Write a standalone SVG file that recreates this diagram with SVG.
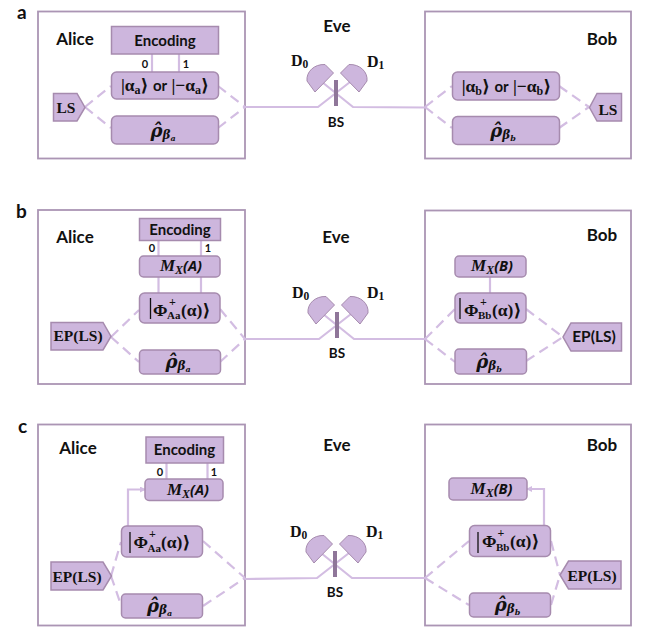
<svg xmlns="http://www.w3.org/2000/svg" width="670" height="632" viewBox="0 0 670 632">
<defs>
<style>
.frame{fill:#fff;stroke:#ab95b4;stroke-width:1.8}
.box{fill:#cdb6dd;stroke:#a68bae;stroke-width:1.5}
.wire{fill:none;stroke:#d3bde2;stroke-width:2.200}
.dash{fill:none;stroke:#d3bde2;stroke-width:2.200;stroke-dasharray:10 6}
.bar{fill:#8f7699}
.det{fill:#cdb6dd;stroke:#a68bae;stroke-width:1}
.ket{stroke:#111;stroke-width:1.300;fill:none}
text{font-family:"Lato","Open Sans","Liberation Sans",sans-serif;font-weight:700;fill:#111;text-anchor:middle}
.tag{font-size:19px;text-anchor:start}
.who{font-size:17px}
.enc{font-size:15px}
.bit{font-size:11px}
.bs{font-size:13.500px}
.m{font-family:"Liberation Serif","DejaVu Serif",serif;font-size:17.500px}
.ep{font-family:"Liberation Serif","DejaVu Serif",serif;font-size:15.500px}
.s{font-size:12px}
.or{font-family:"Lato",sans-serif;font-size:15px}
.mx{font-family:"Open Sans","Liberation Sans",sans-serif;font-style:italic;font-size:14.500px}
.mm{font-family:"Liberation Serif",serif;font-size:17px}
.mb{font-family:"Liberation Serif",serif;font-size:12px}
.rho{font-family:"DejaVu Serif",serif;font-style:italic;font-size:18px}
.rb{font-size:12px}
.rc{font-size:8px}
.lab{font-family:"Liberation Serif","DejaVu Serif",serif;font-size:16px;text-anchor:start}
.lab tspan{font-size:11.500px}
.phi{font-family:"Liberation Serif","DejaVu Serif",serif;font-size:17.500px;text-anchor:start}
.pp{font-family:"Liberation Serif",serif;font-size:12px;text-anchor:start}
.ps{font-family:"Liberation Serif",serif;font-size:11px;text-anchor:start}
</style>
<marker id="head" markerWidth="6" markerHeight="6" refX="5" refY="3" orient="auto" markerUnits="userSpaceOnUse"><path d="M0,0 L6,3 L0,6 Z" fill="#d3bde2"/></marker>
<path id="detector" d="M315,92 L307,81 C306,72 314,64 325,64.500 L333.500,73 Z"/>
</defs>
<rect width="670" height="632" fill="#fff"/>

<!-- Frames sit under everything else -->
<g id="frames">
<rect class="frame" x="38" y="11.500" width="207" height="147"/>
<rect class="frame" x="425" y="11.500" width="206" height="147"/>
<rect class="frame" x="38" y="210" width="207" height="174"/>
<rect class="frame" x="425" y="210.500" width="206" height="173.500"/>
<rect class="frame" x="38" y="424.500" width="207" height="201"/>
<rect class="frame" x="425" y="424.500" width="206" height="201"/>
</g>

<g id="connectors">
<!-- panel a -->
<path class="dash" d="M85,107 L111,86"/><path class="dash" d="M85,107 L111,128"/>
<path class="dash" d="M218,86 L245,107"/><path class="dash" d="M218,128 L245,107"/>
<path class="wire" d="M152,54 V72 M179,54 V72"/>
<path class="wire" d="M245,107 H318 L350,82"/>
<path class="wire" d="M425,107.500 L353,107 L322,82"/>
<path class="dash" d="M425,107 L452,86"/><path class="dash" d="M425,107 L452,128"/>
<path class="dash" d="M559,86 L589,107"/><path class="dash" d="M559,128 L589,107"/>
<!-- panel b -->
<path class="dash" d="M111,337 L139,310"/><path class="dash" d="M111,337 L139,362"/>
<path class="dash" d="M220,309 L245,339"/><path class="dash" d="M220,362 L245,339"/>
<path class="wire" d="M158.500,240 V256 M201,240 V256 M158.500,277 V293 M201,277 V293"/>
<path class="wire" d="M245,339 H319 L351,314"/>
<path class="wire" d="M425,339 H354 L323,314"/>
<path class="dash" d="M425,339 L455,309"/><path class="dash" d="M425,339 L455,362"/>
<path class="dash" d="M526,309 L563,337"/><path class="dash" d="M526,361 L563,337"/>
<path class="wire" d="M490,277 V293"/>
<!-- panel c -->
<path class="dash" d="M111,576 L121,542"/><path class="dash" d="M111,576 L121,605"/>
<path class="dash" d="M203,541 L245,578"/><path class="dash" d="M203,606 L245,578"/>
<path class="wire" d="M166.500,463 V479 M207.500,463 V479"/>
<path class="wire" marker-end="url(#head)" d="M128,526 V489.500 H145"/>
<path class="wire" d="M245,579 L317,578 L349,553"/>
<path class="wire" d="M425,578 H352 L321,553"/>
<path class="dash" d="M425,578 L469,541"/><path class="dash" d="M425,578 L469,605"/>
<path class="dash" d="M551,541 L560,575"/><path class="dash" d="M551,605 L560,575"/>
<path class="wire" marker-end="url(#head)" d="M544,525 V489 H527"/>
</g>

<text class="tag" x="17" y="19">a</text>
<text class="tag" x="16" y="218">b</text>
<text class="tag" x="18" y="433">c</text>

<!-- Panel a, Alice -->
<g id="a-alice"><text class="who" x="75" y="44.500">Alice</text></g>
<g id="a-encoding"><rect class="box" x="111.500" y="26.500" width="107" height="27.500"/><text class="enc" x="165" y="46">Encoding</text></g>
<g id="a-bits"><text class="bit" x="145" y="68">0</text><text class="bit" x="186" y="68">1</text></g>
<g id="a-alpha"><rect class="box" x="111.500" y="72" width="107" height="27" rx="5"/><text x="165" y="91" class="m">|α<tspan class="s" dy="3">a</tspan><tspan dy="-3">⟩</tspan> <tspan class="or">or</tspan> |−α<tspan class="s" dy="3">a</tspan><tspan dy="-3">⟩</tspan></text></g>
<g id="a-rho"><rect class="box" x="111.500" y="116" width="107" height="28" rx="5"/><text x="163" y="137" class="rho">ρ̂<tspan class="rb" dy="2">β</tspan><tspan class="rc" dy="2">a</tspan></text></g>
<g id="a-ls"><path class="box" stroke-width="1" d="M53.500,93.500 H77 L85,107.500 L77,121 H53.500 Z"/><text x="66" y="113" class="ep">LS</text></g>
<!-- Panel a, Eve -->
<g id="a-eve"><text class="who" x="337" y="31.500">Eve</text></g>
<g id="a-d0"><use href="#detector" class="det"/><text class="lab" x="291" y="66">D<tspan dy="2">0</tspan></text></g>
<g id="a-d1"><use href="#detector" class="det" transform="matrix(-1 0 0 1 674 0)"/><text class="lab" x="367" y="67">D<tspan dy="2">1</tspan></text></g>
<g id="a-bs"><rect class="bar" x="334" y="80" width="4" height="26"/><text class="bs" x="336" y="127">BS</text></g>
<!-- Panel a, Bob -->
<g id="a-bob"><text class="who" x="602" y="44.500">Bob</text></g>
<g id="a-alpha-b"><rect class="box" x="452.500" y="72" width="107" height="28" rx="5"/><text x="506.500" y="92" class="m">|α<tspan class="s" dy="3">b</tspan><tspan dy="-3">⟩</tspan> <tspan class="or">or</tspan> |−α<tspan class="s" dy="3">b</tspan><tspan dy="-3">⟩</tspan></text></g>
<g id="a-rho-b"><rect class="box" x="452.500" y="116.500" width="107" height="28" rx="5"/><text x="503" y="137" class="rho">ρ̂<tspan class="rb" dy="2">β</tspan><tspan class="rc" dy="2">b</tspan></text></g>
<g id="a-ls-b"><path class="box" stroke-width="1" d="M621.500,93.500 H597 L589.500,107.500 L597,121 H621.500 Z"/><text x="608" y="115" class="ep">LS</text></g>

<!-- Panel b, Alice -->
<g id="b-alice"><text class="who" x="75" y="243">Alice</text></g>
<g id="b-encoding"><rect class="box" x="139.500" y="218.500" width="81" height="22"/><text class="enc" x="180" y="235">Encoding</text></g>
<g id="b-bits"><text class="bit" x="152" y="252">0</text><text class="bit" x="208" y="252">1</text></g>
<g id="b-mx"><rect class="box" x="139.500" y="256" width="80.500" height="21" rx="4"/><text class="mx" x="181" y="271"><tspan class="mm">M</tspan><tspan class="mb" dy="3">X</tspan><tspan dy="-3">(A)</tspan></text></g>
<g id="b-phi"><rect class="box" x="139.500" y="293" width="80.500" height="30" rx="5"/><path class="ket" d="M150.500,298 V319"/><text class="phi" x="153" y="316">Φ</text><text class="pp" x="169" y="306">+</text><text class="ps" x="167" y="319">Aa</text><text class="phi" x="181" y="316">(α)⟩</text></g>
<g id="b-rho"><rect class="box" x="139.500" y="350" width="81" height="24" rx="4"/><text x="178" y="368" class="rho">ρ̂<tspan class="rb" dy="2">β</tspan><tspan class="rc" dy="2">a</tspan></text></g>
<g id="b-ep"><path class="box" stroke-width="1" d="M51,322.500 H103 L111,336.500 L103,350 H51 Z"/><text x="78" y="341" class="ep">EP(LS)</text></g>
<!-- Panel b, Eve -->
<g id="b-eve"><text class="who" x="336" y="243">Eve</text></g>
<g id="b-d0"><use href="#detector" class="det" transform="translate(1 232)"/><text class="lab" x="292" y="298">D<tspan dy="2">0</tspan></text></g>
<g id="b-d1"><use href="#detector" class="det" transform="matrix(-1 0 0 1 675 232)"/><text class="lab" x="367" y="298">D<tspan dy="2">1</tspan></text></g>
<g id="b-bs"><rect class="bar" x="335" y="312" width="4" height="26"/><text class="bs" x="337" y="358">BS</text></g>
<!-- Panel b, Bob -->
<g id="b-bob"><text class="who" x="602" y="241">Bob</text></g>
<g id="b-mx-b"><rect class="box" x="455" y="256" width="71" height="21" rx="4"/><text class="mx" x="492" y="271"><tspan class="mm">M</tspan><tspan class="mb" dy="3">X</tspan><tspan dy="-3">(B)</tspan></text></g>
<g id="b-phi-b"><rect class="box" x="455" y="293" width="71" height="30" rx="5"/><path class="ket" d="M460,298 V319"/><text class="phi" x="464" y="316">Φ</text><text class="pp" x="480" y="306">+</text><text class="ps" x="478" y="319">Bb</text><text class="phi" x="492" y="316">(α)⟩</text></g>
<g id="b-rho-b"><rect class="box" x="455" y="349" width="71.500" height="25" rx="4"/><text x="489" y="368" class="rho">ρ̂<tspan class="rb" dy="2">β</tspan><tspan class="rc" dy="2">b</tspan></text></g>
<g id="b-ep-b"><path class="box" stroke-width="1" d="M621.500,323 H571 L563,337 L571,351 H621.500 Z"/><text x="594" y="342" font-size="15.500">EP(LS)</text></g>

<!-- Panel c, Alice -->
<g id="c-alice"><text class="who" x="78" y="454">Alice</text></g>
<g id="c-encoding"><rect class="box" x="146" y="437" width="77.500" height="26"/><text class="enc" x="184.500" y="455">Encoding</text></g>
<g id="c-bits"><text class="bit" x="160" y="476">0</text><text class="bit" x="214" y="476">1</text></g>
<g id="c-mx"><rect class="box" x="145" y="479" width="78" height="21.500" rx="4"/><text class="mx" x="188" y="495"><tspan class="mm">M</tspan><tspan class="mb" dy="3">X</tspan><tspan dy="-3">(A)</tspan></text></g>
<g id="c-phi"><rect class="box" x="121.500" y="526" width="81" height="31" rx="5"/><path class="ket" d="M130,532 V553"/><text class="phi" x="133.500" y="548">Φ</text><text class="pp" x="149" y="538">+</text><text class="ps" x="147.500" y="551.500">Aa</text><text class="phi" x="161" y="548">(α)⟩</text></g>
<g id="c-rho"><rect class="box" x="121.500" y="594" width="81" height="24" rx="4"/><text x="159.500" y="611.500" class="rho">ρ̂<tspan class="rb" dy="2">β</tspan><tspan class="rc" dy="2">a</tspan></text></g>
<g id="c-ep"><path class="box" stroke-width="1" d="M51,562 H103 L111.500,576 L103,590 H51 Z"/><text x="77" y="582" class="ep">EP(LS)</text></g>
<!-- Panel c, Eve -->
<g id="c-eve"><text class="who" x="337" y="451">Eve</text></g>
<g id="c-d0"><use href="#detector" class="det" transform="translate(-1 471)"/><text class="lab" x="290" y="537">D<tspan dy="2">0</tspan></text></g>
<g id="c-d1"><use href="#detector" class="det" transform="matrix(-1 0 0 1 673 471)"/><text class="lab" x="366" y="537">D<tspan dy="2">1</tspan></text></g>
<g id="c-bs"><rect class="bar" x="333" y="551" width="4" height="26"/><text class="bs" x="335" y="597">BS</text></g>
<!-- Panel c, Bob -->
<g id="c-bob"><text class="who" x="602" y="451">Bob</text></g>
<g id="c-mx-b"><rect class="box" x="449" y="478" width="78" height="22" rx="4"/><text class="mx" x="491.500" y="494"><tspan class="mm">M</tspan><tspan class="mb" dy="3">X</tspan><tspan dy="-3">(B)</tspan></text></g>
<g id="c-phi-b"><rect class="box" x="469.500" y="525.500" width="81" height="31" rx="5"/><path class="ket" d="M478,532 V553"/><text class="phi" x="482" y="547">Φ</text><text class="pp" x="497.500" y="537">+</text><text class="ps" x="496" y="551">Bb</text><text class="phi" x="510" y="547">(α)⟩</text></g>
<g id="c-rho-b"><rect class="box" x="469.500" y="593" width="81" height="24" rx="4"/><text x="507.500" y="611" class="rho">ρ̂<tspan class="rb" dy="2">β</tspan><tspan class="rc" dy="2">b</tspan></text></g>
<g id="c-ep-b"><path class="box" stroke-width="1" d="M621,561 H568.500 L560,575 L568.500,589 H621 Z"/><text x="592" y="581" class="ep">EP(LS)</text></g>
</svg>
